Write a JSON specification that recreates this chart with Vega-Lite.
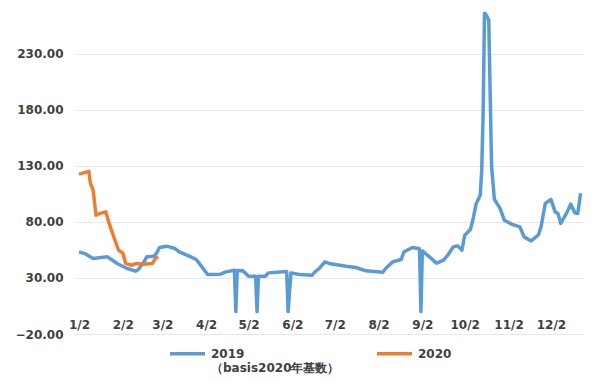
{
  "$schema": "https://vega.github.io/schema/vega-lite/v6.json",
  "width": 507,
  "height": 323,
  "autosize": {"type": "none"},
  "padding": {"left": 75, "top": 11, "right": 18, "bottom": 49},
  "background": "white",
  "config": {
    "font": "DejaVu Sans",
    "view": {"stroke": null}
  },
  "data": {
    "values": [
      {"series": "2019", "date": "2019-01-02", "value": 53.2},
      {"series": "2019", "date": "2019-01-07", "value": 51.2},
      {"series": "2019", "date": "2019-01-12", "value": 47.3},
      {"series": "2019", "date": "2019-01-22", "value": 48.8},
      {"series": "2019", "date": "2019-01-25", "value": 46.4},
      {"series": "2019", "date": "2019-01-29", "value": 42.9},
      {"series": "2019", "date": "2019-02-05", "value": 38.4},
      {"series": "2019", "date": "2019-02-11", "value": 36.0},
      {"series": "2019", "date": "2019-02-13", "value": 37.5},
      {"series": "2019", "date": "2019-02-17", "value": 44.3},
      {"series": "2019", "date": "2019-02-19", "value": 48.8},
      {"series": "2019", "date": "2019-02-24", "value": 49.4},
      {"series": "2019", "date": "2019-02-26", "value": 52.3},
      {"series": "2019", "date": "2019-02-28", "value": 57.1},
      {"series": "2019", "date": "2019-03-05", "value": 58.3},
      {"series": "2019", "date": "2019-03-11", "value": 56.2},
      {"series": "2019", "date": "2019-03-14", "value": 53.2},
      {"series": "2019", "date": "2019-03-21", "value": 49.4},
      {"series": "2019", "date": "2019-03-26", "value": 46.4},
      {"series": "2019", "date": "2019-03-30", "value": 39.8},
      {"series": "2019", "date": "2019-04-03", "value": 33.0},
      {"series": "2019", "date": "2019-04-12", "value": 33.3},
      {"series": "2019", "date": "2019-04-16", "value": 35.4},
      {"series": "2019", "date": "2019-04-22", "value": 36.9},
      {"series": "2019", "date": "2019-04-23", "value": 0},
      {"series": "2019", "date": "2019-04-24", "value": 36.6},
      {"series": "2019", "date": "2019-04-28", "value": 36.3},
      {"series": "2019", "date": "2019-05-02", "value": 31.5},
      {"series": "2019", "date": "2019-05-07", "value": 31.5},
      {"series": "2019", "date": "2019-05-08", "value": 0},
      {"series": "2019", "date": "2019-05-09", "value": 31.5},
      {"series": "2019", "date": "2019-05-14", "value": 31.5},
      {"series": "2019", "date": "2019-05-16", "value": 34.5},
      {"series": "2019", "date": "2019-05-29", "value": 35.7},
      {"series": "2019", "date": "2019-05-30", "value": 0},
      {"series": "2019", "date": "2019-06-01", "value": 34.5},
      {"series": "2019", "date": "2019-06-07", "value": 33.0},
      {"series": "2019", "date": "2019-06-16", "value": 32.4},
      {"series": "2019", "date": "2019-06-18", "value": 35.4},
      {"series": "2019", "date": "2019-06-21", "value": 38.4},
      {"series": "2019", "date": "2019-06-25", "value": 44.3},
      {"series": "2019", "date": "2019-06-28", "value": 42.9},
      {"series": "2019", "date": "2019-07-10", "value": 40.4},
      {"series": "2019", "date": "2019-07-17", "value": 39.3},
      {"series": "2019", "date": "2019-07-24", "value": 36.3},
      {"series": "2019", "date": "2019-08-05", "value": 35.1},
      {"series": "2019", "date": "2019-08-07", "value": 38.4},
      {"series": "2019", "date": "2019-08-12", "value": 44.3},
      {"series": "2019", "date": "2019-08-18", "value": 46.4},
      {"series": "2019", "date": "2019-08-20", "value": 53.2},
      {"series": "2019", "date": "2019-08-26", "value": 57.1},
      {"series": "2019", "date": "2019-08-31", "value": 56.0},
      {"series": "2019", "date": "2019-09-01", "value": 0},
      {"series": "2019", "date": "2019-09-02", "value": 54.1},
      {"series": "2019", "date": "2019-09-07", "value": 48.8},
      {"series": "2019", "date": "2019-09-12", "value": 43.2},
      {"series": "2019", "date": "2019-09-17", "value": 45.8},
      {"series": "2019", "date": "2019-09-20", "value": 50.3},
      {"series": "2019", "date": "2019-09-24", "value": 57.7},
      {"series": "2019", "date": "2019-09-27", "value": 58.6},
      {"series": "2019", "date": "2019-09-30", "value": 54.7},
      {"series": "2019", "date": "2019-10-02", "value": 68.1},
      {"series": "2019", "date": "2019-10-06", "value": 73.2},
      {"series": "2019", "date": "2019-10-08", "value": 83.0},
      {"series": "2019", "date": "2019-10-10", "value": 95.8},
      {"series": "2019", "date": "2019-10-13", "value": 104.0},
      {"series": "2019", "date": "2019-10-14", "value": 125.0},
      {"series": "2019", "date": "2019-10-15", "value": 175.0},
      {"series": "2019", "date": "2019-10-16", "value": 266.0},
      {"series": "2019", "date": "2019-10-17", "value": 265.0},
      {"series": "2019", "date": "2019-10-19", "value": 260.0},
      {"series": "2019", "date": "2019-10-21", "value": 130.0},
      {"series": "2019", "date": "2019-10-23", "value": 100.0},
      {"series": "2019", "date": "2019-10-27", "value": 92.0},
      {"series": "2019", "date": "2019-10-30", "value": 81.5},
      {"series": "2019", "date": "2019-11-04", "value": 78.0},
      {"series": "2019", "date": "2019-11-10", "value": 75.5},
      {"series": "2019", "date": "2019-11-13", "value": 66.6},
      {"series": "2019", "date": "2019-11-18", "value": 63.0},
      {"series": "2019", "date": "2019-11-23", "value": 68.1},
      {"series": "2019", "date": "2019-11-25", "value": 75.5},
      {"series": "2019", "date": "2019-11-28", "value": 96.4},
      {"series": "2019", "date": "2019-12-02", "value": 100.0},
      {"series": "2019", "date": "2019-12-05", "value": 88.9},
      {"series": "2019", "date": "2019-12-07", "value": 87.5},
      {"series": "2019", "date": "2019-12-09", "value": 78.6},
      {"series": "2019", "date": "2019-12-13", "value": 87.5},
      {"series": "2019", "date": "2019-12-16", "value": 95.8},
      {"series": "2019", "date": "2019-12-19", "value": 88.0},
      {"series": "2019", "date": "2019-12-21", "value": 87.5},
      {"series": "2019", "date": "2019-12-23", "value": 105.4},
      {"series": "2020", "date": "2019-01-02", "value": 122.6},
      {"series": "2020", "date": "2019-01-09", "value": 125.0},
      {"series": "2020", "date": "2019-01-10", "value": 114.8},
      {"series": "2020", "date": "2019-01-12", "value": 108.3},
      {"series": "2020", "date": "2019-01-14", "value": 86.0},
      {"series": "2020", "date": "2019-01-17", "value": 87.5},
      {"series": "2020", "date": "2019-01-21", "value": 88.9},
      {"series": "2020", "date": "2019-01-23", "value": 80.0},
      {"series": "2020", "date": "2019-01-27", "value": 65.2},
      {"series": "2020", "date": "2019-01-30", "value": 54.7},
      {"series": "2020", "date": "2019-02-02", "value": 52.3},
      {"series": "2020", "date": "2019-02-04", "value": 42.9},
      {"series": "2020", "date": "2019-02-08", "value": 41.3},
      {"series": "2020", "date": "2019-02-12", "value": 42.9},
      {"series": "2020", "date": "2019-02-16", "value": 42.2},
      {"series": "2020", "date": "2019-02-23", "value": 42.9},
      {"series": "2020", "date": "2019-02-25", "value": 47.3},
      {"series": "2020", "date": "2019-02-27", "value": 48.8}
    ]
  },
  "mark": {"type": "line", "strokeWidth": 3.5, "strokeJoin": "round"},
  "encoding": {
    "x": {
      "field": "date",
      "type": "temporal",
      "scale": {
        "type": "utc",
        "domain": [
          {"year": 2018, "month": 12, "date": 30, "hours": 4, "utc": true},
          {"year": 2019, "month": 12, "date": 24, "utc": true}
        ]
      },
      "axis": {
        "title": null,
        "grid": false,
        "domain": false,
        "ticks": false,
        "offset": -22,
        "labelPadding": 7,
        "labelFontSize": 12,
        "labelFontWeight": "bold",
        "labelColor": "#404040",
        "format": "%-m/%-d",
        "labelOverlap": false,
        "values": [
          {"year": 2019, "month": 1, "date": 2, "utc": true},
          {"year": 2019, "month": 2, "date": 2, "utc": true},
          {"year": 2019, "month": 3, "date": 2, "utc": true},
          {"year": 2019, "month": 4, "date": 2, "utc": true},
          {"year": 2019, "month": 5, "date": 2, "utc": true},
          {"year": 2019, "month": 6, "date": 2, "utc": true},
          {"year": 2019, "month": 7, "date": 2, "utc": true},
          {"year": 2019, "month": 8, "date": 2, "utc": true},
          {"year": 2019, "month": 9, "date": 2, "utc": true},
          {"year": 2019, "month": 10, "date": 2, "utc": true},
          {"year": 2019, "month": 11, "date": 2, "utc": true},
          {"year": 2019, "month": 12, "date": 2, "utc": true}
        ]
      }
    },
    "y": {
      "field": "value",
      "type": "quantitative",
      "scale": {"domain": [-20, 268], "nice": false, "zero": false},
      "axis": {
        "title": null,
        "values": [-20, 30, 80, 130, 180, 230],
        "format": ".2f",
        "domain": false,
        "ticks": false,
        "labelPadding": 12,
        "labelFontSize": 12,
        "labelFontWeight": "bold",
        "labelColor": "#404040",
        "gridColor": "#e8e8e8",
        "gridWidth": 1
      }
    },
    "color": {
      "field": "series",
      "type": "nominal",
      "scale": {"domain": ["2019", "2020"], "range": ["#5B9BD5", "#ED7D31"]},
      "legend": {
        "title": null,
        "orient": "none",
        "legendX": 93,
        "legendY": 323,
        "direction": "horizontal",
        "padding": 0,
        "symbolType": "stroke",
        "symbolSize": 1225,
        "symbolStrokeWidth": 3.5,
        "labelFontSize": 12,
        "labelFontWeight": "bold",
        "labelColor": "#404040",
        "labelOffset": 4,
        "columnPadding": 30,
        "labelLimit": 300,
        "labelExpr": "datum.label == '2019' ? ['2019', '（basis2020年基数）'] : [datum.label, ' ']"
      }
    }
  }
}
